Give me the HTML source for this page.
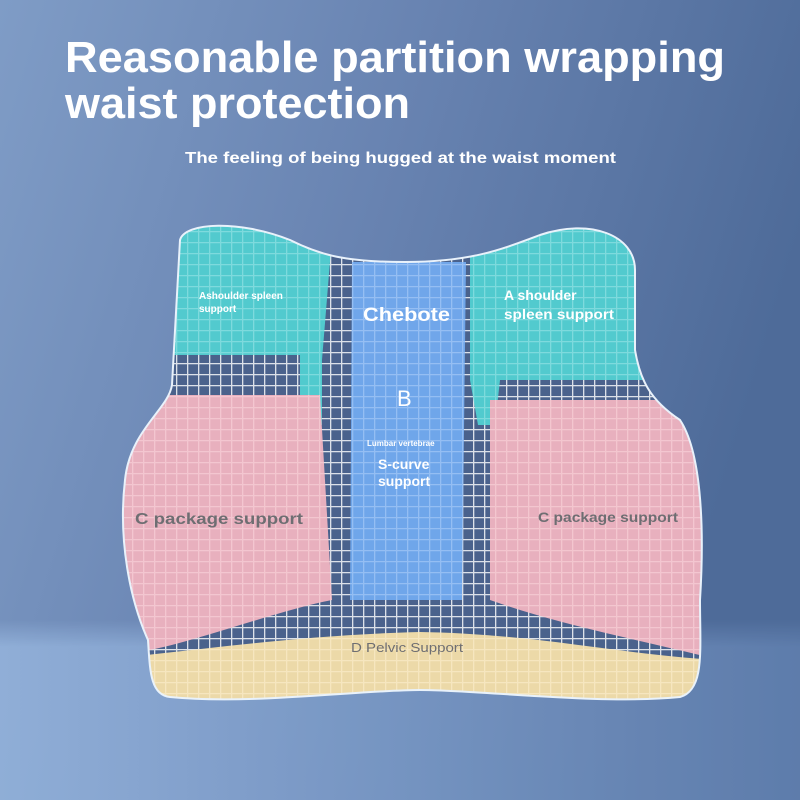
<!DOCTYPE html>
<html><head><meta charset="utf-8"><style>
html,body{margin:0;padding:0;width:800px;height:800px;overflow:hidden}
svg{display:block}
text{font-family:"Liberation Sans",sans-serif;font-weight:bold}
</style></head><body>
<svg width="800" height="800" viewBox="0 0 800 800" xmlns="http://www.w3.org/2000/svg">
<defs>
<linearGradient id="bg" x1="0" y1="0" x2="1" y2="0.3">
<stop offset="0" stop-color="#7f9cc6"/><stop offset="0.5" stop-color="#6883b1"/><stop offset="1" stop-color="#4e6b99"/>
</linearGradient>
<linearGradient id="bot" x1="0" y1="0" x2="1" y2="0">
<stop offset="0" stop-color="#97b6de"/><stop offset="0.5" stop-color="#7c9bc8"/><stop offset="1" stop-color="#6281b0"/>
</linearGradient>
<linearGradient id="botv" x1="0" y1="0" x2="0" y2="1">
<stop offset="0" stop-color="#fff" stop-opacity="0"/><stop offset="0.15" stop-color="#fff" stop-opacity="1"/>
</linearGradient>
<mask id="bm"><rect y="620" width="800" height="180" fill="url(#botv)"/></mask>
<pattern id="grid" width="11" height="11" patternUnits="userSpaceOnUse">
<path d="M0 0.5H11M0.5 0V11" stroke="#fff" stroke-width="1.6" fill="none"/>
</pattern>
<clipPath id="body"><path id="bp" d="M180 240 C185 222,240 220,290 240 C320 255,345 262,405 262 C470 262,500 250,540 235 C590 218,635 235,635 270 L635 350 C640 380,650 400,680 420 C700 450,705 520,700 600 C700 650,705 690,680 697 C600 705,480 690,420 690 C360 690,250 705,170 697 C150 695,150 670,148 640 C130 600,118 540,125 480 C130 430,168 410,172 385 Z"/></clipPath>
</defs>
<rect width="800" height="800" fill="url(#bg)"/>
<rect y="620" width="800" height="180" fill="url(#bot)" mask="url(#bm)" opacity="0.8"/>
<g clip-path="url(#body)">
<rect x="100" y="200" width="620" height="520" fill="#4a628c"/>
<rect x="100" y="200" width="620" height="520" fill="url(#grid)" opacity="0.75"/>
<g opacity="0.95">
<path d="M150 200 H335 L322 360 L322 425 L300 425 L300 355 H150 Z" fill="#52d0d2"/>
<path d="M470 200 H660 V380 H500 L495 425 L478 425 L470 380 Z" fill="#52d0d2"/>
<path d="M352 262 H466 L462 600 H350 Z" fill="#72aaf0"/>
<path d="M100 395 H320 L332 600 C280 610,200 640,150 650 L100 650 Z" fill="#f1b5c1"/>
<path d="M490 400 H720 V660 C640 640,560 625,490 600 Z" fill="#f1b5c1"/>
<path d="M100 660 C200 650,300 635,420 632 C540 634,620 655,720 660 V720 H100 Z" fill="#f5e0aa"/>
</g>
<rect x="100" y="200" width="620" height="520" fill="url(#grid)" opacity="0.22"/>
</g>
<use href="#bp" fill="none" stroke="#e9f2fb" stroke-width="2"/>
<text x="65" y="72" font-size="44" fill="#fff" textLength="660" lengthAdjust="spacingAndGlyphs">Reasonable partition wrapping</text>
<text x="65" y="118" font-size="44" fill="#fff" textLength="345" lengthAdjust="spacingAndGlyphs">waist protection</text>
<text x="185" y="163" font-size="16" fill="#fff" textLength="431" lengthAdjust="spacingAndGlyphs">The feeling of being hugged at the waist moment</text>
<text x="199" y="299" font-size="10" fill="#fff">Ashoulder spleen</text>
<text x="199" y="312" font-size="10" fill="#fff">support</text>
<text x="363" y="321" font-size="19" fill="#fff" textLength="87" lengthAdjust="spacingAndGlyphs">Chebote</text>
<text x="504" y="300" font-size="14" fill="#fff">A shoulder</text>
<text x="504" y="319" font-size="14" fill="#fff" textLength="110" lengthAdjust="spacingAndGlyphs">spleen support</text>
<text x="397" y="406" font-size="22" fill="#fff" style="font-weight:normal">B</text>
<text x="367" y="446" font-size="8" fill="#fff">Lumbar vertebrae</text>
<text x="378" y="469" font-size="14" fill="#fff">S-curve</text>
<text x="378" y="486" font-size="14" fill="#fff">support</text>
<text x="135" y="524" font-size="16" fill="#6e6e72" textLength="168" lengthAdjust="spacingAndGlyphs">C package support</text>
<text x="538" y="522" font-size="14" fill="#6e6e72" textLength="140" lengthAdjust="spacingAndGlyphs">C package support</text>
<text x="351" y="652" font-size="13" fill="#6e6e72" style="font-weight:normal" textLength="112" lengthAdjust="spacingAndGlyphs">D Pelvic Support</text>
</svg>
</body></html>
